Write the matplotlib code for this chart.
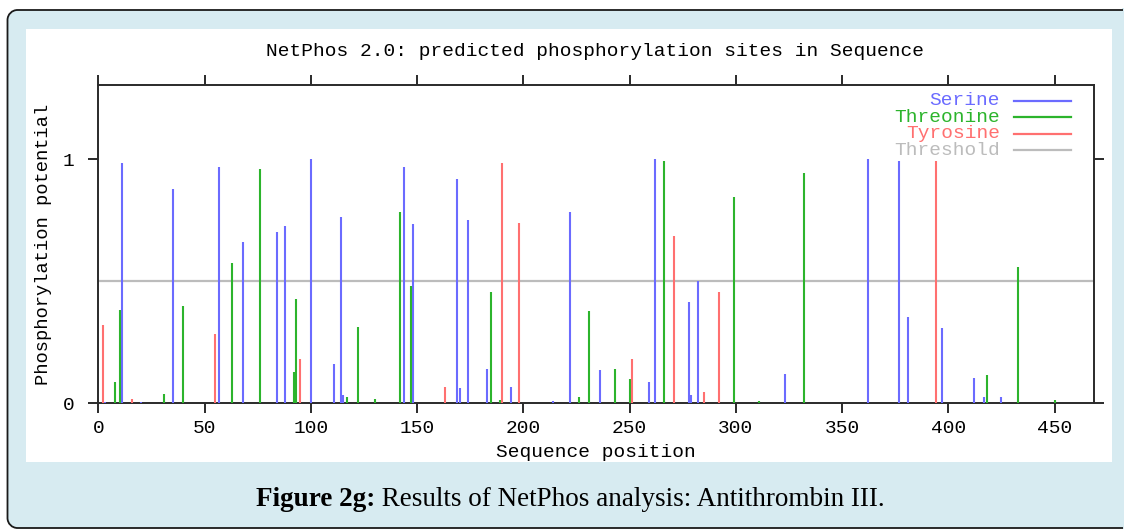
import matplotlib
matplotlib.use("Agg")
import matplotlib.pyplot as plt
from matplotlib.patches import Rectangle, PathPatch
from matplotlib.path import Path

# Predicted sites: sequence position and phosphorylation potential
serine_pos = [3, 11, 20, 35, 57, 68, 84, 88, 100, 111, 114, 115, 144, 148, 169, 170,
              174, 183, 194, 214, 222, 236, 259, 262, 278, 279, 282, 323, 362, 377,
              381, 397, 412, 417, 425]
serine_val = [0.005, 0.985, 0.005, 0.876, 0.966, 0.659, 0.701, 0.727, 1.0, 0.161, 0.764,
              0.033, 0.966, 0.733, 0.917, 0.061, 0.75, 0.142, 0.068, 0.01, 0.782, 0.136,
              0.086, 1.0, 0.413, 0.033, 0.499, 0.119, 1.0, 0.992, 0.352, 0.308, 0.105,
              0.025, 0.025]

threonine_pos = [8, 10, 31, 40, 63, 76, 92, 93, 117, 122, 130, 142, 147, 185, 189, 226,
                 231, 243, 250, 266, 299, 311, 332, 418, 433, 450]
threonine_val = [0.086, 0.382, 0.038, 0.40, 0.573, 0.96, 0.13, 0.426, 0.025, 0.314, 0.018,
                 0.782, 0.48, 0.456, 0.014, 0.025, 0.376, 0.142, 0.098, 0.992, 0.843, 0.01,
                 0.941, 0.117, 0.559, 0.014]

tyrosine_pos = [2, 16, 55, 95, 163, 190, 198, 251, 271, 285, 292, 394]
tyrosine_val = [0.32, 0.018, 0.284, 0.18, 0.068, 0.985, 0.739, 0.18, 0.685, 0.045, 0.457,
                0.992]

threshold = 0.5
x_ticks = [0, 50, 100, 150, 200, 250, 300, 350, 400, 450]
y_ticks = [0, 1]

legend_labels = ["Serine", "Threonine", "Tyrosine", "Threshold"]

C_SER = "#6b6bff"
C_THR = "#2cb42c"
C_TYR = "#ff7070"
C_THRESH = "#bcbcbc"
C_AXIS = "#2a2a2a"
C_PANEL = "#d7ebf1"
MONO = "Liberation Mono"
FS = 14

W, H = 1124, 529
fig = plt.figure(figsize=(W / 100, H / 100), dpi=100)
fig.patch.set_facecolor("white")

# Background layer in pixel units: light-blue frame open to the right, white card
bg = fig.add_axes([0, 0, 1, 1])
bg.set_xlim(0, W)
bg.set_ylim(H, 0)
bg.axis("off")
bg.set_zorder(0)
fx, fy0, fy1, rad = 7.5, 10.0, 528.0, 10.0
k = 0.5523 * rad
x_end = W - 1
panel = Path(
    [(x_end, fy0), (fx + rad, fy0),
     (fx + rad - k, fy0), (fx, fy0 + rad - k), (fx, fy0 + rad),
     (fx, fy1 - rad),
     (fx, fy1 - rad + k), (fx + rad - k, fy1), (fx + rad, fy1),
     (x_end, fy1), (x_end, fy0)],
    [Path.MOVETO, Path.LINETO, Path.CURVE4, Path.CURVE4, Path.CURVE4, Path.LINETO,
     Path.CURVE4, Path.CURVE4, Path.CURVE4, Path.LINETO, Path.CLOSEPOLY])
bg.add_patch(PathPatch(panel, facecolor=C_PANEL, edgecolor="none", clip_on=False))
bg.add_patch(Rectangle((x_end - 1, fy0 - 2), 3, fy1 - fy0 + 4, facecolor=C_PANEL,
                       edgecolor="none", clip_on=False))
outline = Path(
    [(x_end, fy0), (fx + rad, fy0),
     (fx + rad - k, fy0), (fx, fy0 + rad - k), (fx, fy0 + rad),
     (fx, fy1 - rad),
     (fx, fy1 - rad + k), (fx + rad - k, fy1), (fx + rad, fy1),
     (x_end, fy1)],
    [Path.MOVETO, Path.LINETO, Path.CURVE4, Path.CURVE4, Path.CURVE4, Path.LINETO,
     Path.CURVE4, Path.CURVE4, Path.CURVE4, Path.LINETO])
bg.add_patch(PathPatch(outline, facecolor="none", edgecolor="#1a1a1a", linewidth=1.3,
                       capstyle="butt", clip_on=False))
bg.add_patch(Rectangle((26, 29), 1112 - 26, 462 - 29, facecolor="white", edgecolor="none"))

left, right, top, bottom = 98.3, 1094.3, 85.0, 403.3
ax = fig.add_axes([left / W, 1 - bottom / H, (right - left) / W, (bottom - top) / H])
ax.set_facecolor("white")
ax.set_zorder(2)

lw = 1.5
ax.vlines(serine_pos, 0, serine_val, colors=C_SER, linewidth=lw, zorder=3)
ax.vlines(threonine_pos, 0, threonine_val, colors=C_THR, linewidth=lw, zorder=3)
ax.vlines(tyrosine_pos, 0, tyrosine_val, colors=C_TYR, linewidth=lw, zorder=3)
ax.axhline(threshold, color=C_THRESH, linewidth=1.6, zorder=2)

ax.set_xlim(0, 468.7)
ax.set_ylim(0, 1.303)

ax.set_xticks(x_ticks)
ax.set_yticks(y_ticks)
ax.set_xticklabels([str(v) for v in x_ticks], family=MONO, fontsize=FS)
ax.set_yticklabels([str(v) for v in y_ticks], family=MONO, fontsize=FS)
ax.tick_params(axis="both", direction="out", length=7, width=1.4, color=C_AXIS,
               top=True, right=True, labeltop=False, labelright=False)
ax.tick_params(axis="x", pad=5)
ax.tick_params(axis="y", pad=10)
for s in ax.spines.values():
    s.set_color(C_AXIS)
    s.set_linewidth(1.4)

ax.set_xlabel("Sequence position", family=MONO, fontsize=FS, labelpad=5)
ax.set_ylabel("Phosphorylation potential", family=MONO, fontsize=13.5, labelpad=8)
fig.text(595 / W, 1 - 52 / H, "NetPhos 2.0: predicted phosphorylation sites in Sequence",
         family=MONO, fontsize=FS, ha="center", va="center", zorder=3)

# Legend drawn inside the top-right corner
leg_colors = [C_SER, C_THR, C_TYR, C_THRESH]
leg_rows = [100.7, 117.0, 133.7, 150.3]
ax_h = bottom - top
ax_w = right - left
for lab, col, py in zip(legend_labels, leg_colors, leg_rows):
    yf = (bottom - py) / ax_h
    ax.text((1000 - left) / ax_w, yf, lab, transform=ax.transAxes, family=MONO,
            fontsize=FS, color=col, ha="right", va="center", zorder=4)
    ax.plot([(1014 - left) / ax_w, (1071 - left) / ax_w], [yf, yf],
            transform=ax.transAxes, color=col, linewidth=1.6, zorder=4)

# Caption below the card: bold lead-in followed by regular text
cap_y = 1 - 500 / H
CAP_FS = 19.5
t1 = fig.text(0.5, cap_y, "Figure 2g:", family="Liberation Serif", fontsize=CAP_FS,
              fontweight="bold", ha="left", va="center", zorder=3)
t2 = fig.text(0.5, cap_y, " Results of NetPhos analysis: Antithrombin III.",
              family="Liberation Serif", fontsize=CAP_FS, ha="left", va="center", zorder=3)
fig.canvas.draw()
r = fig.canvas.get_renderer()
w1 = t1.get_window_extent(r).width
w2 = t2.get_window_extent(r).width
x0 = 570 - (w1 + w2) / 2
t1.set_x(x0 / W)
t2.set_x((x0 + w1) / W)

fig.savefig("out.png", dpi=100)
